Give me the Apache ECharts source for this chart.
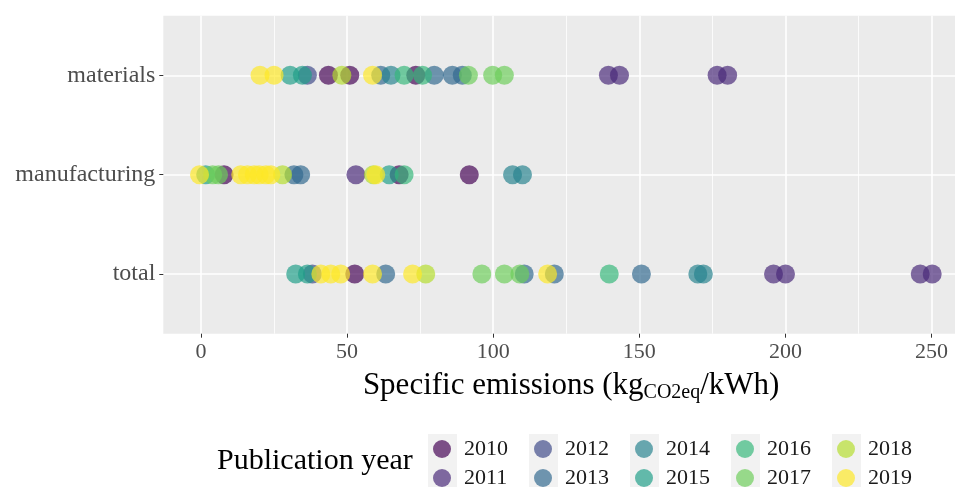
<!DOCTYPE html>
<html><head><meta charset="utf-8">
<script src="https://cdn.jsdelivr.net/npm/echarts@6/dist/echarts.min.js"></script>
<style>html,body{margin:0;padding:0;background:#fff}#c{width:955px;height:487px}</style>
</head><body><div id="c"></div>
<script>
// y categories, bottom to top
const categories = ['total', 'manufacturing', 'materials'];
const years = ['2010','2011','2012','2013','2014','2015','2016','2017','2018','2019'];
const colors = ['rgba(68,1,84,0.85)','rgba(72,40,120,0.85)','rgba(62,74,137,0.85)','rgba(49,104,142,0.85)','rgba(38,130,142,0.85)','rgba(31,158,137,0.85)','rgba(53,183,121,0.85)','rgba(109,205,89,0.85)','rgba(180,222,44,0.85)','rgba(253,231,37,0.85)'];
const xTicks = [0, 50, 100, 150, 200, 250];
const xMinorTicks = [25, 75, 125, 175, 225];

// [value, category] per publication year
const y2010 = [[52.6,'total'],[7.9,'manufacturing'],[67.8,'manufacturing'],[91.8,'manufacturing'],[43.6,'materials'],[50.9,'materials'],[73.5,'materials']];
const y2011 = [[195.9,'total'],[200,'total'],[246.1,'total'],[250.2,'total'],[53,'manufacturing'],[139.4,'materials'],[143.2,'materials'],[176.6,'materials'],[180.2,'materials']];
const y2012 = [[38.1,'total'],[36.4,'materials']];
const y2013 = [[63.2,'total'],[110.6,'total'],[120.9,'total'],[150.7,'total'],[31.8,'manufacturing'],[34.1,'manufacturing'],[61.5,'materials'],[79.8,'materials'],[86,'materials'],[89.4,'materials']];
const y2014 = [[170,'total'],[171.9,'total'],[106.6,'manufacturing'],[110,'manufacturing'],[65,'materials']];
const y2015 = [[32.4,'total'],[36.4,'total'],[1.6,'manufacturing'],[64.4,'manufacturing'],[30.5,'materials'],[34.7,'materials']];
const y2016 = [[139.7,'total'],[69.5,'manufacturing'],[69.5,'materials'],[75.8,'materials']];
const y2017 = [[96.1,'total'],[103.8,'total'],[109.1,'total'],[4,'manufacturing'],[6,'manufacturing'],[91.5,'materials'],[99.8,'materials'],[103.8,'materials']];
const y2018 = [[76.9,'total'],[27.9,'manufacturing'],[59,'manufacturing'],[48.2,'materials']];
const y2019 = [[41,'total'],[44.4,'total'],[47.8,'total'],[58.7,'total'],[72.4,'total'],[118.6,'total'],[-0.5,'manufacturing'],[13.6,'manufacturing'],[15.9,'manufacturing'],[18.2,'manufacturing'],[19.9,'manufacturing'],[22.2,'manufacturing'],[23.9,'manufacturing'],[59.8,'manufacturing'],[20.2,'materials'],[25,'materials'],[58.7,'materials']];
const yearData = [y2010,y2011,y2012,y2013,y2014,y2015,y2016,y2017,y2018,y2019];

const FONT = 'Liberation Serif';
const chart = echarts.init(document.getElementById('c'), null, {renderer: 'canvas'});

const series = years.map((yr, i) => ({
  name: yr,
  type: 'scatter',
  xAxisIndex: 0,
  symbol: 'circle',
  symbolSize: 19,
  itemStyle: {color: colors[i]},
  emphasis: {disabled: true},
  data: yearData[i].map(d => [d[0], categories.indexOf(d[1]) + 1])
}));

const legendCols = [];
for (let c = 0; c < 5; c++) {
  legendCols.push({
    type: 'plain',
    orient: 'vertical',
    left: 433 + c * 101,
    top: 438,
    width: 80,
    height: 60,
    padding: 0,
    itemWidth: 18, itemHeight: 18, itemGap: 7,
    icon: 'circle',
    selectedMode: false,
    textStyle: {fontFamily: FONT, fontSize: 22, color: '#1a1a1a', lineHeight: 22, padding: [0,0,0,8]},
    data: [years[2*c], years[2*c+1]]
  });
}

const keyBoxes = [];
for (let c = 0; c < 5; c++) {
  keyBoxes.push({type: 'rect', left: 428 + c * 101, top: 434, shape: {width: 29, height: 58}, style: {fill: '#f2f2f2'}, z: -1});
}

chart.setOption({
  animation: false,
  backgroundColor: '#ffffff',
  grid: {left: 163.3, right: 0, top: 15.7, bottom: 153.3, show: true, backgroundColor: '#ebebeb', borderWidth: 0, containLabel: false},
  xAxis: [{
    type: 'value', min: -12.9, max: 258,
    name: '{a|Specific emissions (kg}{s|CO2eq}{a|/kWh)}',
    nameLocation: 'middle', nameGap: 32,
    nameTextStyle: {padding: [0, 0, 0, 24], rich: {
      a: {fontFamily: FONT, fontSize: 31, color: '#000', lineHeight: 34},
      s: {fontFamily: FONT, fontSize: 20, color: '#000', lineHeight: 22, padding: [14,0,0,0]}
    }},
    axisLine: {show: false, onZero: false},
    axisTick: {show: true, customValues: xTicks, length: 4, lineStyle: {color: '#333', width: 1}},
    axisLabel: {customValues: xTicks, margin: 8, fontFamily: FONT, fontSize: 22, color: '#4d4d4d'},
    splitLine: {show: true, lineStyle: {color: '#ffffff', width: 1.6}}
  }, {
    type: 'value', min: -12.9, max: 258, position: 'bottom',
    axisLine: {show: false, onZero: false},
    axisTick: {show: false, customValues: xMinorTicks},
    axisLabel: {show: false, customValues: xMinorTicks},
    splitLine: {show: true, lineStyle: {color: '#ffffff', width: 0.8}}
  }],
  yAxis: {
    type: 'value', min: 0.4, max: 3.6, position: 'left',
    axisLine: {show: false, onZero: false},
    axisTick: {show: true, customValues: [1,2,3], length: 4, lineStyle: {color: '#333', width: 1}},
    axisLabel: {customValues: [1,2,3], margin: 8, fontFamily: FONT, fontSize: 24, color: '#4d4d4d',
      formatter: v => categories[Math.round(v) - 1]},
    splitLine: {show: true, lineStyle: {color: '#ffffff', width: 1.6}}
  },
  legend: legendCols,
  graphic: keyBoxes.concat([{
    type: 'text', left: 217, top: 446,
    style: {text: 'Publication year', fontFamily: FONT, fontSize: 30, fill: '#000'}
  }]),
  series: series
});
</script></body></html>
